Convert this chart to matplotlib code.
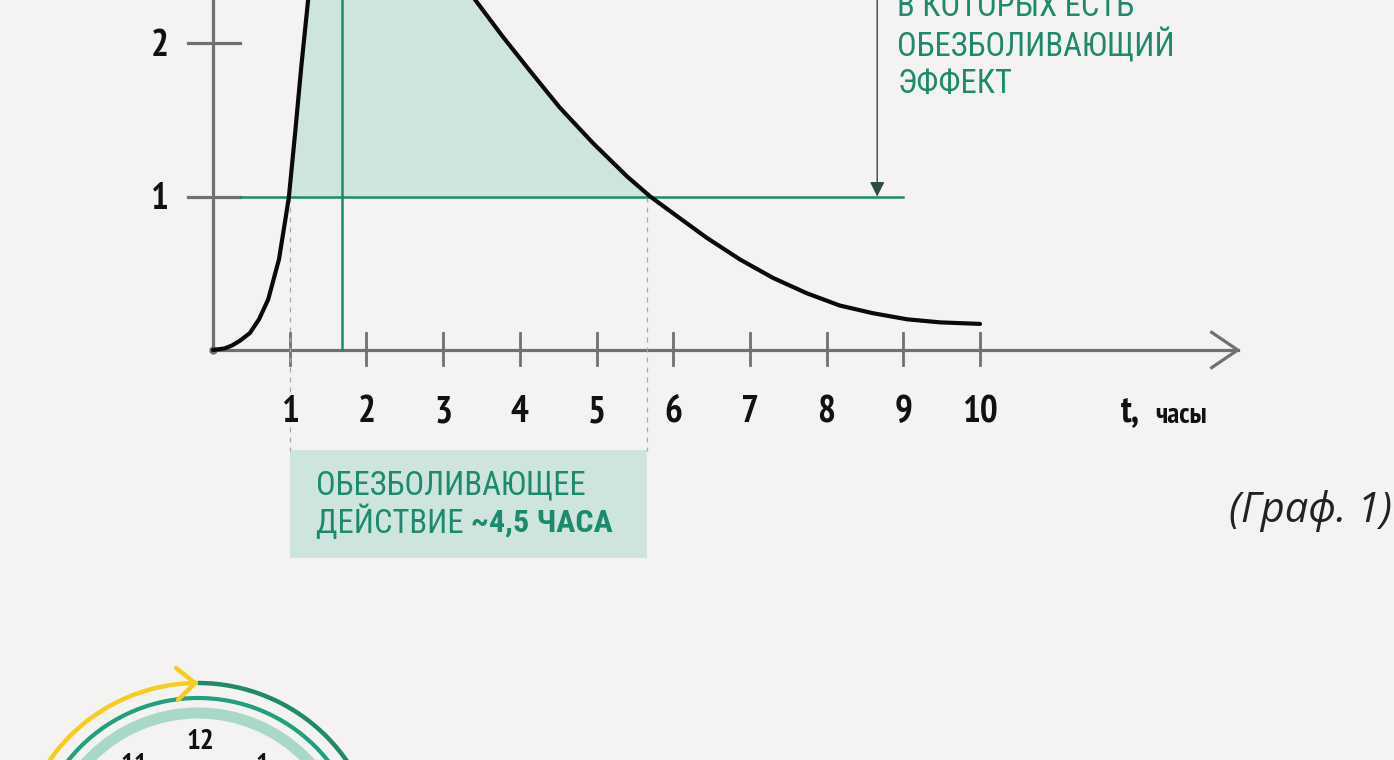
import matplotlib.pyplot as plt
from matplotlib import font_manager as fm
from matplotlib.patches import Arc, Rectangle

# concentration curve, hours vs relative level
hours = [0, 0.15, 0.25, 0.35, 0.48, 0.6, 0.72, 0.86, 0.95, 0.99, 1.07, 1.15, 1.24,
         1.4, 1.7, 2.0, 2.5, 3.0, 3.42, 3.78, 4.13, 4.52, 4.95, 5.40, 5.70, 6.0,
         6.44, 6.87, 7.30, 7.74, 8.17, 8.60, 9.05, 9.48, 10.0]
level = [0, 0.01, 0.03, 0.06, 0.11, 0.20, 0.33, 0.59, 0.87, 1.0, 1.41, 1.84, 2.28,
         2.85, 3.15, 3.15, 2.95, 2.62, 2.28, 2.04, 1.82, 1.58, 1.35, 1.13, 1.0, 0.89,
         0.73, 0.59, 0.47, 0.37, 0.29, 0.24, 0.20, 0.18, 0.17]
x_ticks = [1, 2, 3, 4, 5, 6, 7, 8, 9, 10]
y_ticks = [1, 2]
threshold = 1.0
t_max = 1.68
t_start, t_end = 1.0, 5.66
clock_labels = ["12", "11", "1"]

BG = "#f5f3f2"
TEAL = "#1b8a6d"
LIGHT = "#cde5dc"
GREY = "#707070"

installed = {f.name for f in fm.fontManager.ttflist}


def pick(prefs):
    found = [n for n in prefs if n in installed][:1]
    return found + ["DejaVu Sans"]


NARROW = pick(["PT Sans Narrow", "Roboto Condensed", "Fira Sans Condensed",
               "Liberation Sans Narrow"])
LABEL = pick(["Roboto Condensed", "PT Sans Narrow", "Fira Sans Condensed",
              "Liberation Sans Narrow"])
LSIZE = 23.5 if LABEL[0] == "Roboto Condensed" else 25


def ntext(axis, x, y, s, size, family=NARROW, **kw):
    kw.setdefault("color", "#111111")
    stretch = "condensed" if family[0] == "DejaVu Sans" else "normal"
    return axis.text(x, y, s, fontsize=size, family=family, fontstretch=stretch, **kw)


fig = plt.figure(figsize=(13.94, 7.6), dpi=100)
fig.patch.set_facecolor(BG)

# main chart axes: fills the figure, 76.7 px per hour, 153.5 px per unit
ax = fig.add_axes([0, 0, 1, 1])
ax.set_facecolor(BG)
ax.set_xlim(-213 / 76.7, (1394 - 213) / 76.7)
ax.set_ylim((350 - 760) / 153.5, 350 / 153.5)
ax.axis("off")

# fill above threshold
lv_clip = [max(v, threshold) for v in level]
ax.fill_between(hours, threshold, lv_clip, color=LIGHT, lw=0, zorder=1)

# axes lines
ax.plot([0, 0], [0, 2.4], color=GREY, lw=2.3, zorder=2, solid_capstyle="butt")
ax.plot([0, 13.36], [0, 0], color=GREY, lw=2.3, zorder=2)
ax.plot([13.02, 13.36, 13.02], [0.115, 0, -0.115], color=GREY, lw=2.3, zorder=2)
ax.plot([0], [0], "o", color=GREY, ms=5, zorder=3)
for t in x_ticks:
    ax.plot([t, t], [0.11, -0.10], color=GREY, lw=2.0, zorder=2)
    ntext(ax, t, -0.41, str(t), 27, ha="center", va="center", fontweight="bold")
for v in y_ticks:
    ax.plot([-0.33, 0.35], [v, v], color=GREY, lw=2.3, zorder=2)
    ntext(ax, -0.70, v - 0.02, str(v), 27, ha="center", va="center", fontweight="bold")

ntext(ax, 11.96, -0.41, "t,", 27, ha="center", va="center", fontweight="bold")
ntext(ax, 12.62, -0.43, "часы", 21, ha="center", va="center", fontweight="bold")

# threshold line and Tmax line
ax.plot([0.35, 9.0], [threshold, threshold], color=TEAL, lw=1.8, zorder=3)
ax.plot([t_max, t_max], [0, 2.4], color=TEAL, lw=1.8, zorder=3)

# dashed guides
for t in (t_start, t_end):
    ax.plot([t, t], [threshold, -0.66], color="#a9a9a9", lw=0.9,
            ls=(0, (4, 4)), zorder=2)

# the curve
ax.plot(hours, level, color="#0a0a0a", lw=3.0, zorder=4,
        solid_capstyle="round", solid_joinstyle="round")

# annotation arrow
ax.annotate("", xy=(8.66, threshold), xytext=(8.66, 2.4),
            arrowprops=dict(arrowstyle="-|>", color="#2e4a45", lw=1.0,
                            mutation_scale=22, shrinkA=0, shrinkB=0), zorder=5)
ntext(ax, 8.92, 2.34, "В КОТОРЫХ ЕСТЬ\nОБЕЗБОЛИВАЮЩИЙ\nЭФФЕКТ", LSIZE, family=LABEL,
      ha="left", va="top", color=TEAL, linespacing=1.2)

# duration box
ax.add_patch(Rectangle((t_start, -1.355), t_end - t_start, 0.705,
                       facecolor=LIGHT, edgecolor="none", zorder=1))
ntext(ax, 1.34, -0.88, "ОБЕЗБОЛИВАЮЩЕЕ", LSIZE, family=LABEL,
      ha="left", va="center", color=TEAL)
t1 = ntext(ax, 1.34, -1.125, "ДЕЙСТВИЕ ", LSIZE, family=LABEL,
           ha="left", va="center", color=TEAL)
ax.annotate("~4,5 ЧАСА", xycoords=t1, xy=(1, 0.5), va="center", ha="left",
            fontsize=LSIZE - 0.5, fontweight="bold", family=LABEL, color=TEAL)

ax.text(13.25, -1.05, "(Граф. 1)", ha="left", va="center", fontsize=30,
        style="italic", fontstretch="normal", family=["Open Sans", "DejaVu Sans"],
        color="#222222")

# clock fragment at the bottom
cax = fig.add_axes([(198 - 200) / 1394, (760 - 864 - 200) / 760, 400 / 1394, 400 / 760])
cax.set_xlim(-200, 200)
cax.set_ylim(-200, 200)
cax.axis("off")
cax.patch.set_alpha(0)
cax.add_patch(Arc((0, 0), 362, 362, theta1=0, theta2=90, color="#1d8a6a", lw=3.2))
cax.add_patch(Arc((0, 0), 362, 362, theta1=90, theta2=180, color="#f5cd1f", lw=3.2))
cax.plot([-22, -3, -20], [196, 181, 164], color="#f5cd1f", lw=3.2,
         solid_capstyle="round")
cax.add_patch(Arc((0, 0), 332, 332, theta1=0, theta2=180, color="#1fa07f", lw=3.0))
cax.add_patch(Arc((0, 0), 302, 302, theta1=0, theta2=180, color="#a9d8c9", lw=8))
ntext(cax, 2, 122, clock_labels[0], 21, ha="center", va="center", fontweight="bold")
ntext(cax, -64, 98, clock_labels[1], 21, ha="center", va="center", fontweight="bold")
ntext(cax, 64, 98, clock_labels[2], 21, ha="center", va="center", fontweight="bold")

fig.savefig("out.png", dpi=100, facecolor=BG)
